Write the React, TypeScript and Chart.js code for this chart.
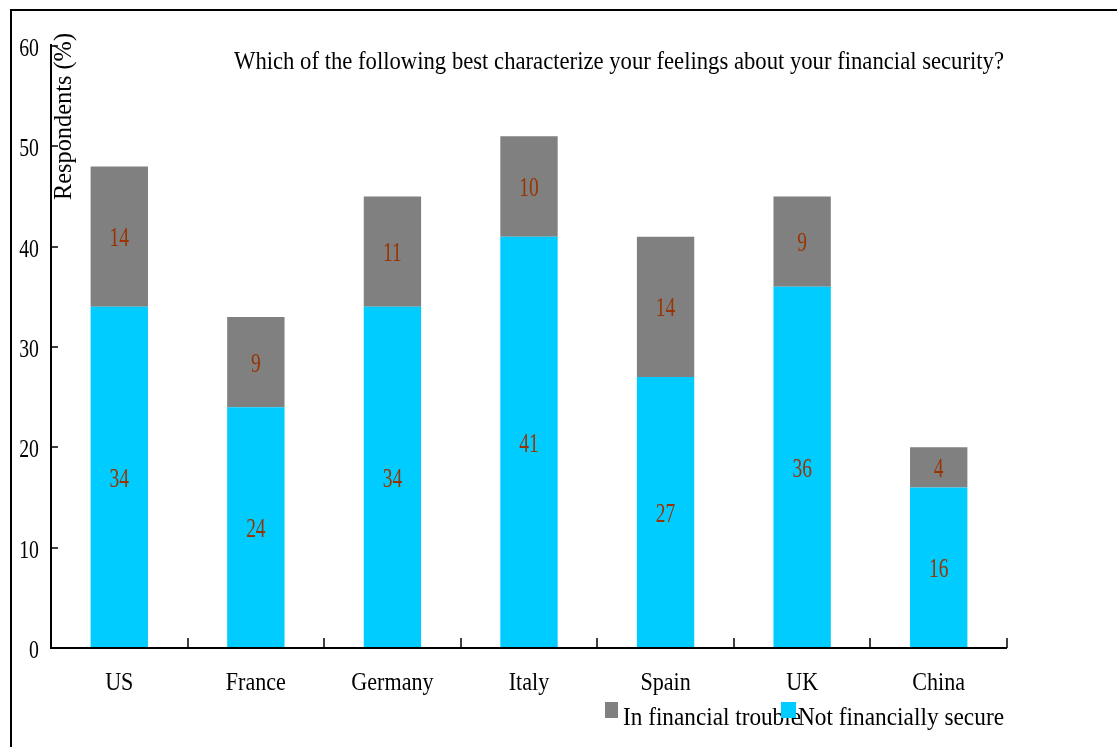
import React, { useEffect, useRef } from "react";
import { Chart, registerables } from "chart.js";

Chart.register(...registerables);

const categories = ["US", "France", "Germany", "Italy", "Spain", "UK", "China"];
const notSecure = [34, 24, 34, 41, 27, 36, 16];
const inTrouble = [14, 9, 11, 10, 14, 9, 4];
const yTicks = [0, 10, 20, 30, 40, 50, 60];
const titleText = "Which of the following best characterize your feelings about your financial security?";
const yTitle = "Respondents (%)";
const legendLabels = ["In financial trouble", "Not financially secure"];

const GRAY = "#808080";
const CYAN = "#00CCFF";
const LABEL = "#993300";
const FONT = "'Liberation Serif', 'Times New Roman', serif";

// draw horizontally condensed text; if width given, fit to it
function drawText(ctx: any, text: string, x: number, y: number, size: number, sx: number | null, width: number | null, align: string) {
  ctx.save();
  ctx.font = `${size}px ${FONT}`;
  ctx.textBaseline = "alphabetic";
  ctx.textAlign = align;
  const w = ctx.measureText(text).width;
  const s = width ? width / w : (sx as number);
  ctx.translate(x, y);
  ctx.scale(s, 1);
  ctx.fillText(text, 0, 0);
  ctx.restore();
}

const decorPlugin = {
  id: "decor",
  afterDatasetsDraw(chart: any) {
    const ctx = chart.ctx;
    const ca = chart.chartArea;
    const x = chart.scales.x;
    const y = chart.scales.y;
    ctx.save();
    // frame
    ctx.strokeStyle = "#000";
    ctx.lineWidth = 2;
    ctx.beginPath();
    ctx.moveTo(11, 747);
    ctx.lineTo(11, 10);
    ctx.lineTo(1117, 10);
    ctx.stroke();
    // axes
    ctx.beginPath();
    ctx.moveTo(ca.left, ca.top - 2);
    ctx.lineTo(ca.left, ca.bottom);
    ctx.lineTo(ca.right, ca.bottom);
    ctx.stroke();
    // y ticks inward + labels
    ctx.lineWidth = 1.5;
    yTicks.forEach((v) => {
      const py = Math.round(y.getPixelForValue(v));
      ctx.beginPath();
      ctx.moveTo(ca.left, py);
      ctx.lineTo(ca.left + 7, py);
      ctx.stroke();
      ctx.fillStyle = "#000";
      drawText(ctx, String(v), 39, py + 10, 26, 0.76, null, "right");
    });
    // x ticks at category boundaries + labels
    for (let i = 1; i <= categories.length; i++) {
      const px = i === categories.length ? ca.right : Math.round((x.getPixelForValue(i - 1) + x.getPixelForValue(i)) / 2);
      ctx.beginPath();
      ctx.moveTo(px, ca.bottom);
      ctx.lineTo(px, ca.bottom - 10);
      ctx.stroke();
    }
    categories.forEach((c, i) => {
      ctx.fillStyle = "#000";
      drawText(ctx, c, x.getPixelForValue(i), 690, 26, 0.85, null, "center");
    });
    // data labels
    ctx.fillStyle = LABEL;
    chart.data.datasets.forEach((ds: any, di: number) => {
      const meta = chart.getDatasetMeta(di);
      meta.data.forEach((el: any, i: number) => {
        drawText(ctx, String(ds.data[i]), el.x, (el.y + el.base) / 2 + 9.5, 27, 0.72, null, "center");
      });
    });
    // title
    ctx.fillStyle = "#000";
    drawText(ctx, titleText, 234, 69, 25, null, 770, "left");
    // y title
    ctx.save();
    ctx.translate(70.5, 200);
    ctx.rotate(-Math.PI / 2);
    drawText(ctx, yTitle, 0, 0, 26, null, 167, "left");
    ctx.restore();
    // legend
    ctx.fillStyle = GRAY;
    ctx.fillRect(605, 702, 13, 16);
    ctx.fillStyle = "#000";
    drawText(ctx, legendLabels[0], 623, 725, 26, null, 178, "left");
    ctx.fillStyle = CYAN;
    ctx.fillRect(781, 702, 15, 16);
    ctx.fillStyle = "#000";
    drawText(ctx, legendLabels[1], 798, 725, 26, null, 206, "left");
    ctx.restore();
  },
};

export default function App() {
  const ref = useRef<HTMLCanvasElement>(null);
  useEffect(() => {
    if (!ref.current) return;
    const chart = new Chart(ref.current, {
      type: "bar",
      data: {
        labels: categories,
        datasets: [
          { label: legendLabels[1], data: notSecure, backgroundColor: CYAN, barPercentage: 0.42, categoryPercentage: 1 },
          { label: legendLabels[0], data: inTrouble, backgroundColor: GRAY, barPercentage: 0.42, categoryPercentage: 1 },
        ],
      },
      options: {
        responsive: false,
        animation: false,
        layout: { padding: { top: 46, right: 110, left: 0, bottom: 0 } },
        plugins: { legend: { display: false }, tooltip: { enabled: false }, title: { display: false } },
        scales: {
          x: {
            stacked: true,
            grid: { display: false, drawTicks: false },
            border: { display: false },
            ticks: { display: false },
            afterFit: (s: any) => { s.height = 99; },
          },
          y: {
            stacked: true,
            min: 0,
            max: 60,
            grid: { display: false, drawTicks: false },
            border: { display: false },
            ticks: { display: false, stepSize: 10 },
            afterFit: (s: any) => { s.width = 51; },
          },
        },
      },
      plugins: [decorPlugin],
    });
    return () => chart.destroy();
  }, []);
  return (
    <canvas ref={ref} width={1117} height={747} style={{ position: "absolute", left: 0, top: 0, width: 1117, height: 747 }} />
  );
}
